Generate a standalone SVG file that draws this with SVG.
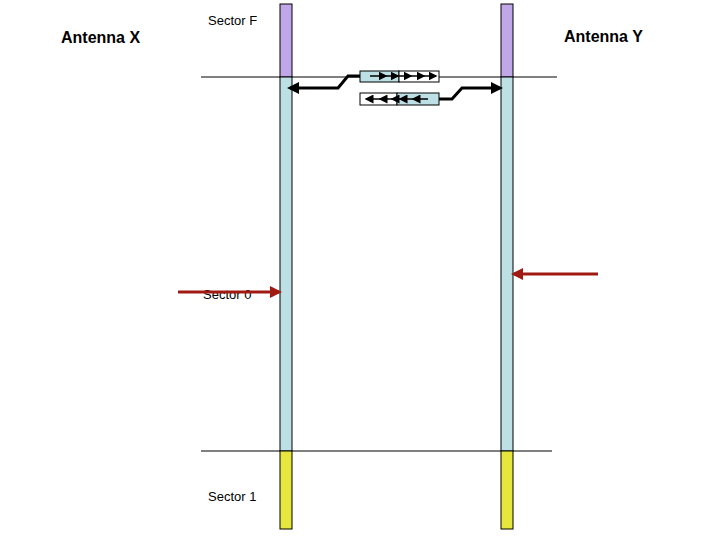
<svg xmlns="http://www.w3.org/2000/svg" width="720" height="540" viewBox="0 0 720 540">
<style>
.t{font-family:"Liberation Sans",Arial,sans-serif;font-size:13px}
.b{font-family:"Liberation Sans",Arial,sans-serif;font-size:16px;font-weight:bold}
.k{stroke:#000;stroke-width:3;fill:none}
.s{stroke:#000;stroke-width:1.5;fill:none}
.r{stroke:#a01a12;stroke-width:3;fill:none}
</style>
<defs>
<marker id="ak" markerWidth="4" markerHeight="4" refX="3" refY="2" orient="auto" markerUnits="strokeWidth"><path d="M0,0L4,2L0,4z" fill="#000"/></marker>
<marker id="as" markerWidth="6" markerHeight="6" refX="5" refY="3" orient="auto" markerUnits="strokeWidth"><path d="M0,0L6,3L0,6z" fill="#000"/></marker>
<marker id="ar" markerWidth="4" markerHeight="4" refX="3" refY="2" orient="auto" markerUnits="strokeWidth"><path d="M0,0L4,2L0,4z" fill="#a01a12"/></marker>
</defs>
<rect width="720" height="540" fill="#fff"/>
<line x1="201" y1="77" x2="557" y2="77" stroke="#000"/>
<line x1="201" y1="451" x2="552" y2="451" stroke="#000"/>
<g id="barX" stroke="#000" stroke-width="1">
<rect x="280" y="4" width="12" height="73" fill="#c0a8e8"/>
<rect x="280" y="77" width="12" height="374" fill="#bde0e4"/>
<rect x="280" y="451" width="12" height="78" fill="#e6e63c"/>
</g>
<g id="barY" stroke="#000" stroke-width="1">
<rect x="501" y="4" width="12" height="73" fill="#c0a8e8"/>
<rect x="501" y="77" width="12" height="374" fill="#bde0e4"/>
<rect x="501" y="451" width="12" height="78" fill="#e6e63c"/>
</g>
<g id="labels">
<text class="b" x="61" y="43">Antenna X</text>
<text class="b" x="564" y="42">Antenna Y</text>
<text class="t" x="208" y="25">Sector F</text>
<text class="t" x="203" y="299">Sector 0</text>
<text class="t" x="208" y="501">Sector 1</text>
</g>
<g id="queueTop" stroke="#000" stroke-width="1">
<rect x="360" y="71" width="39" height="11" fill="#bde0e4"/>
<rect x="399" y="71" width="40" height="11" fill="#fff"/>
</g>
<g id="queueBot" stroke="#000" stroke-width="1">
<rect x="360" y="93" width="37" height="12" fill="#fff"/>
<rect x="397" y="93" width="42" height="12" fill="#bde0e4"/>
</g>
<g id="connectors">
<path class="s" d="M370,76H386" marker-end="url(#as)"/>
<path class="s" d="M386,76H398" marker-end="url(#as)"/>
<path class="s" d="M398,76H411" marker-end="url(#as)"/>
<path class="s" d="M411,76H424" marker-end="url(#as)"/>
<path class="s" d="M424,76H436" marker-end="url(#as)"/>
<path class="s" d="M428,99H413" marker-end="url(#as)"/>
<path class="s" d="M413,99H400" marker-end="url(#as)"/>
<path class="s" d="M400,99H392" marker-end="url(#as)"/>
<path class="s" d="M392,99H380" marker-end="url(#as)"/>
<path class="s" d="M380,99H366" marker-end="url(#as)"/>
<path class="k" d="M360,76H348L338,88H290" marker-end="url(#ak)"/>
<path class="k" d="M439,99H452L462,88H500" marker-end="url(#ak)"/>
<path class="r" d="M178,292H279" marker-end="url(#ar)"/>
<path class="r" d="M598,274H514" marker-end="url(#ar)"/>
</g>
</svg>
